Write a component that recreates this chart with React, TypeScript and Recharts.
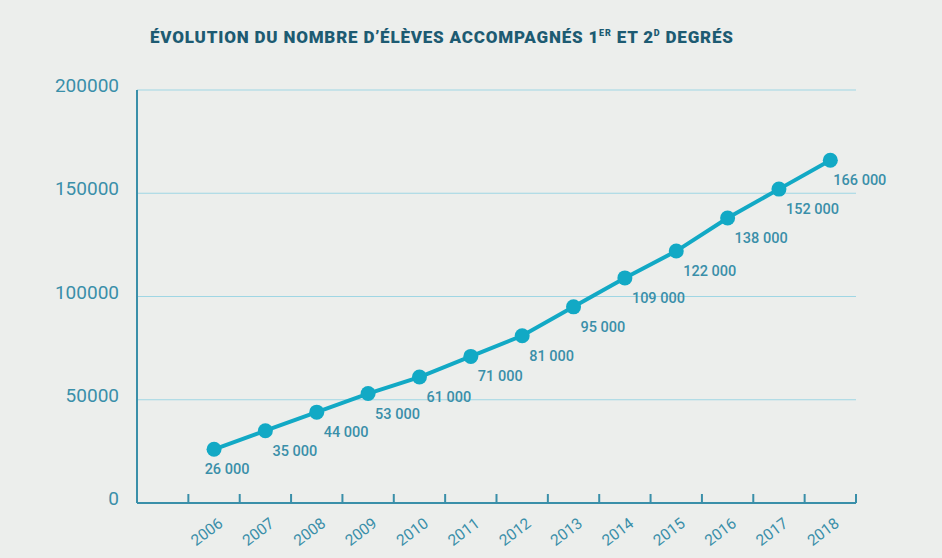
import {
    CartesianGrid,
    LabelList,
    Line,
    LineChart,
    XAxis,
    YAxis,
} from "recharts";

export const years = [2006, 2007, 2008, 2009, 2010, 2011, 2012, 2013, 2014, 2015, 2016, 2017, 2018];
export const students = [26000, 35000, 44000, 53000, 61000, 71000, 81000, 95000, 109000, 122000, 138000, 152000, 166000];
export const yTicks = [0, 50000, 100000, 150000, 200000];
// tick marks sit between the years
export const frameTicks = [2005.5, 2006.5, 2007.5, 2008.5, 2009.5, 2010.5, 2011.5, 2012.5, 2013.5, 2014.5, 2015.5, 2016.5, 2017.5, 2018.5];

const data = years.map((year, i) => ({ year, students: students[i] }));

const TEAL = "#3a8fa9";
const LINE = "#12a9c5";
const GRID = "#9fd6e4";
const FONT = "Roboto, sans-serif";

const fmt = (v: number) => String(v).replace(/\B(?=(\d{3})+(?!\d))/g, " ");

const NoLabel = () => <g />;

function YearTick({ x, y, payload }: any) {
    return (
        <text
            x={x - 4}
            y={y + 25}
            transform={`rotate(-37, ${x - 4}, ${y + 25})`}
            textAnchor="middle"
            fill={TEAL}
            fontSize={15.5}
            fontFamily={FONT}
        >
            {payload.value}
        </text>
    );
}

function ValueTick({ x, y, payload }: any) {
    return (
        <text x={x} y={y} dy={2} textAnchor="end" fill={TEAL} fontSize={19} fontFamily={FONT}>
            {payload.value}
        </text>
    );
}

function PointLabel({ x, y, value, index }: any) {
    const first = index === 0;
    const last = index === students.length - 1;
    return (
        <text
            x={first ? x + 13 : last ? x + 3 : x + 7}
            y={y + 25}
            textAnchor={first ? "middle" : "start"}
            fill={TEAL}
            fontSize={14.5}
            fontWeight={500}
            fontFamily={FONT}
        >
            {fmt(value)}
        </text>
    );
}

export default function App() {
    return (
        <div style={{ width: 942, height: 558, background: "#eceeec", position: "relative" }}>
            <style>{"body{margin:0}"}</style>
            <div
                style={{
                    position: "absolute",
                    left: 150,
                    top: 27,
                    fontFamily: FONT,
                    fontWeight: 900,
                    fontSize: 17,
                    color: "#1d5b72",
                    letterSpacing: 0.8,
                    whiteSpace: "nowrap",
                }}
            >
                ÉVOLUTION DU NOMBRE D’ÉLÈVES ACCOMPAGNÉS 1
                <sup style={{ fontSize: 9 }}>ER</sup> ET 2<sup style={{ fontSize: 9 }}>D</sup> DEGRÉS
            </div>
            <LineChart
                width={942}
                height={558}
                data={data}
                margin={{ top: 90, right: 86, bottom: 0, left: 0 }}
                style={{ position: "absolute", left: 0, top: 0 }}
            >
                <CartesianGrid
                    vertical={false}
                    horizontalValues={yTicks}
                    stroke={GRID}
                    strokeWidth={1}
                />
                <XAxis
                    xAxisId="frame"
                    dataKey="year"
                    type="number"
                    domain={[2004.5, 2018.5]}
                    ticks={frameTicks}
                    interval={0}
                    mirror
                    tick={NoLabel}
                    tickSize={9}
                    tickLine={{ stroke: TEAL, strokeWidth: 2 }}
                    axisLine={{ stroke: TEAL, strokeWidth: 2 }}
                />
                <XAxis
                    dataKey="year"
                    type="number"
                    domain={[2004.5, 2018.5]}
                    ticks={years}
                    interval={0}
                    height={55}
                    axisLine={false}
                    tickLine={false}
                    tick={<YearTick />}
                />
                <YAxis
                    yAxisId="frame"
                    domain={[0, 200000]}
                    ticks={yTicks}
                    interval={0}
                    mirror
                    tick={NoLabel}
                    tickSize={18}
                    tickLine={{ stroke: TEAL, strokeWidth: 2 }}
                    axisLine={{ stroke: TEAL, strokeWidth: 2 }}
                />
                <YAxis
                    domain={[0, 200000]}
                    ticks={yTicks}
                    interval={0}
                    width={137}
                    axisLine={false}
                    tickLine={false}
                    tickMargin={12}
                    tick={<ValueTick />}
                />
                <Line
                    dataKey="students"
                    stroke={LINE}
                    strokeWidth={4}
                    dot={{ r: 7.5, fill: LINE, stroke: "none" }}
                    activeDot={false}
                    isAnimationActive={false}
                >
                    <LabelList dataKey="students" content={<PointLabel />} />
                </Line>
            </LineChart>
        </div>
    );
}
